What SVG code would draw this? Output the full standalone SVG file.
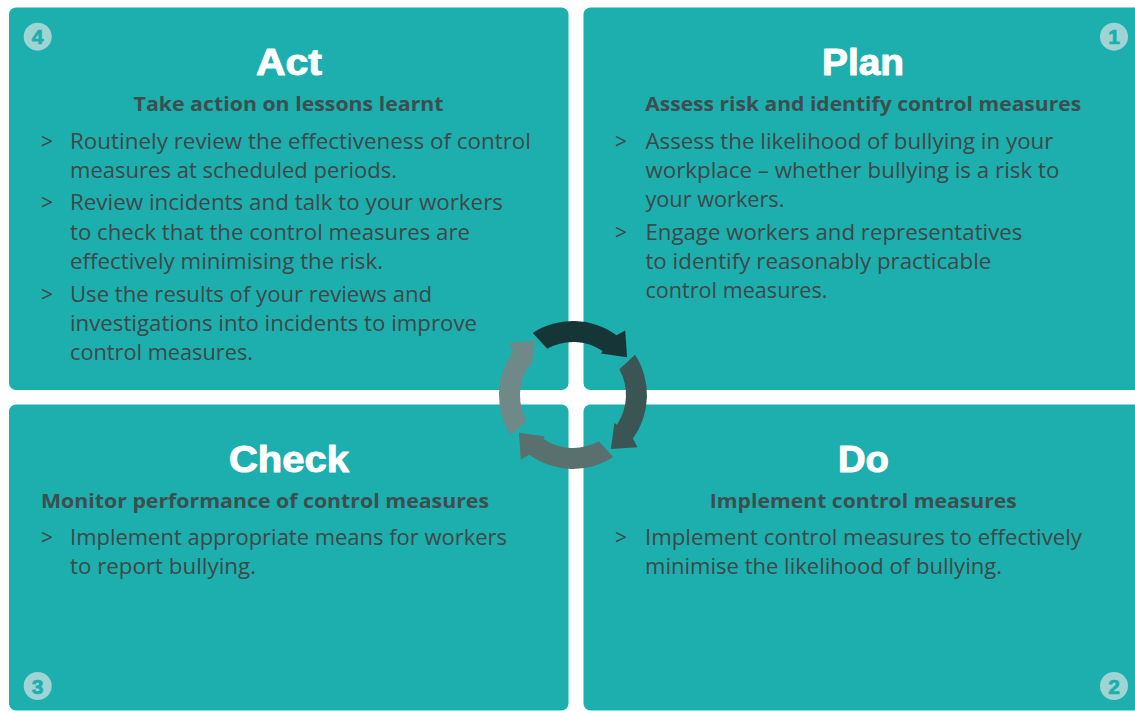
<svg xmlns="http://www.w3.org/2000/svg" xmlns:xlink="http://www.w3.org/1999/xlink" width="1135" height="711" viewBox="0 0 1135 711">
<style>
.panel{fill:#1daeae}
.h{font-family:"Liberation Sans",Arial,sans-serif;font-weight:bold;font-size:36px;fill:#ffffff;stroke:#ffffff;stroke-width:1;stroke-linejoin:round;text-anchor:middle}
.sub{font-family:"Open Sans","Liberation Sans",sans-serif;font-weight:bold;font-size:19px;fill:#3c4e4e}
.mid{text-anchor:middle}
.b{font-family:"Open Sans","Liberation Sans",sans-serif;font-size:21px;fill:#3e4848}
.num{fill:#9fd4d4}
.numt{font-family:"Liberation Sans",Arial,sans-serif;font-weight:bold;font-size:21px;fill:#1daeae;stroke:#1daeae;stroke-width:0.7;stroke-linejoin:round;text-anchor:middle}
</style>
<defs>
<path id="arr" d="M 532.70 332.94 A 74 74 0 0 1 616.50 335.13 L 625.23 330.50 L 627.07 357.14 L 600.96 353.55 L 602.64 351.06 A 53 53 0 0 0 547.31 348.65 Z"/>
</defs>
<rect width="1135" height="711" fill="#ffffff"/>

<g id="act">
<rect class="panel" x="9" y="7.5" width="559.5" height="382.5" rx="7"/>
<circle class="num" cx="37.7" cy="36.7" r="14"/>
<text class="numt" x="37.7" y="44.2">4</text>
<text class="h" x="289" y="75" textLength="66" lengthAdjust="spacingAndGlyphs">Act</text>
<text class="sub mid" x="288.6" y="111" textLength="310" lengthAdjust="spacingAndGlyphs">Take action on lessons learnt</text>
<text class="b" x="41" y="148.5">&gt;</text>
<text class="b" x="70" y="148.5" textLength="461" lengthAdjust="spacingAndGlyphs">Routinely review the effectiveness of control</text>
<text class="b" x="70" y="177.5" textLength="327" lengthAdjust="spacingAndGlyphs">measures at scheduled periods.</text>
<text class="b" x="41" y="210">&gt;</text>
<text class="b" x="70" y="210" textLength="433" lengthAdjust="spacingAndGlyphs">Review incidents and talk to your workers</text>
<text class="b" x="70" y="239.5" textLength="400" lengthAdjust="spacingAndGlyphs">to check that the control measures are</text>
<text class="b" x="70" y="268.5" textLength="313" lengthAdjust="spacingAndGlyphs">effectively minimising the risk.</text>
<text class="b" x="41" y="302">&gt;</text>
<text class="b" x="70" y="302" textLength="362" lengthAdjust="spacingAndGlyphs">Use the results of your reviews and</text>
<text class="b" x="70" y="331" textLength="407" lengthAdjust="spacingAndGlyphs">investigations into incidents to improve</text>
<text class="b" x="70" y="360" textLength="183" lengthAdjust="spacingAndGlyphs">control measures.</text>
</g>

<g id="plan">
<rect class="panel" x="583.5" y="7.5" width="560" height="382.5" rx="7"/>
<circle class="num" cx="1114" cy="36.7" r="14"/>
<text class="numt" x="1114" y="44.2">1</text>
<text class="h" x="863" y="75" textLength="82" lengthAdjust="spacingAndGlyphs">Plan</text>
<text class="sub mid" x="863.2" y="111" textLength="436" lengthAdjust="spacingAndGlyphs">Assess risk and identify control measures</text>
<text class="b" x="615" y="148.5">&gt;</text>
<text class="b" x="645.4" y="148.5" textLength="408" lengthAdjust="spacingAndGlyphs">Assess the likelihood of bullying in your</text>
<text class="b" x="645.4" y="177.5" textLength="414" lengthAdjust="spacingAndGlyphs">workplace – whether bullying is a risk to</text>
<text class="b" x="645.4" y="206.5" textLength="139" lengthAdjust="spacingAndGlyphs">your workers.</text>
<text class="b" x="615" y="239.5">&gt;</text>
<text class="b" x="645.4" y="239.5" textLength="377" lengthAdjust="spacingAndGlyphs">Engage workers and representatives</text>
<text class="b" x="645.4" y="268.5" textLength="346" lengthAdjust="spacingAndGlyphs">to identify reasonably practicable</text>
<text class="b" x="645.4" y="297.5" textLength="182" lengthAdjust="spacingAndGlyphs">control measures.</text>
</g>

<g id="check">
<rect class="panel" x="9" y="404.5" width="559.5" height="306" rx="7"/>
<circle class="num" cx="37.7" cy="686" r="14"/>
<text class="numt" x="37.7" y="693.5">3</text>
<text class="h" x="289" y="471.5" textLength="120" lengthAdjust="spacingAndGlyphs">Check</text>
<text class="sub" x="41" y="507.5" textLength="448" lengthAdjust="spacingAndGlyphs">Monitor performance of control measures</text>
<text class="b" x="41" y="545">&gt;</text>
<text class="b" x="70" y="545" textLength="437" lengthAdjust="spacingAndGlyphs">Implement appropriate means for workers</text>
<text class="b" x="70" y="574" textLength="186" lengthAdjust="spacingAndGlyphs">to report bullying.</text>
</g>

<g id="do">
<rect class="panel" x="583.5" y="404.5" width="560" height="306" rx="7"/>
<circle class="num" cx="1114" cy="686" r="14"/>
<text class="numt" x="1114" y="693.5">2</text>
<text class="h" x="863.5" y="471.5" textLength="51" lengthAdjust="spacingAndGlyphs">Do</text>
<text class="sub mid" x="863.3" y="507.5" textLength="307" lengthAdjust="spacingAndGlyphs">Implement control measures</text>
<text class="b" x="615" y="545">&gt;</text>
<text class="b" x="645" y="545" textLength="437" lengthAdjust="spacingAndGlyphs">Implement control measures to effectively</text>
<text class="b" x="645" y="574" textLength="357" lengthAdjust="spacingAndGlyphs">minimise the likelihood of bullying.</text>
</g>

<g id="connectors">
<use xlink:href="#arr" fill="#163537"/>
<use xlink:href="#arr" fill="#3b5555" transform="rotate(90 573 395)"/>
<use xlink:href="#arr" fill="#5a706f" transform="rotate(180 573 395)"/>
<use xlink:href="#arr" fill="#6f8888" transform="rotate(270 573 395)"/>
</g>
</svg>
